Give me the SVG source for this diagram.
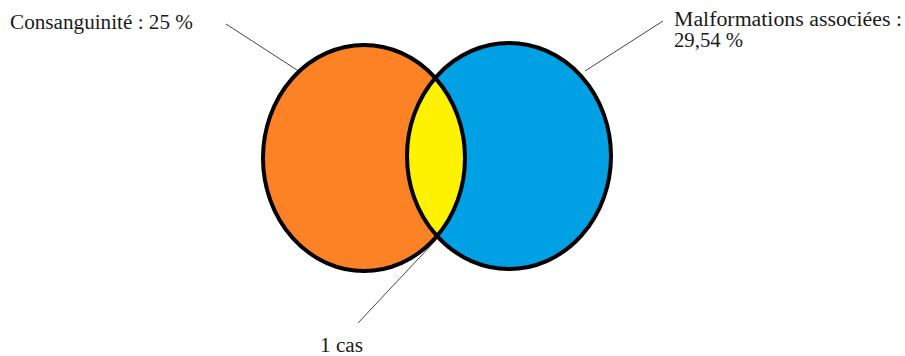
<svg xmlns="http://www.w3.org/2000/svg" width="905" height="356" viewBox="0 0 905 356">
<style>
.lbl{font-family:"Liberation Serif","Times New Roman",serif;font-size:20.5px;fill:#1a1a1a}
.edge{fill:none;stroke:#000;stroke-width:4}
.lead{stroke:#444;stroke-width:1;fill:none}
</style>
<defs>
<clipPath id="clipBlue"><ellipse cx="509" cy="156" rx="102" ry="113"/></clipPath>
</defs>
<rect width="905" height="356" fill="#fff"/>
<g id="connectors">
<line class="lead" x1="226" y1="24" x2="297" y2="70"/>
<line class="lead" x1="663" y1="21" x2="585" y2="71"/>
<line class="lead" x1="358" y1="323" x2="436" y2="240"/>
</g>
<g id="consanguinite">
<ellipse cx="364" cy="158" rx="101" ry="113" fill="#FD8125"/>
<text class="lbl" x="10" y="29" textLength="183" lengthAdjust="spacingAndGlyphs">Consanguinité : 25 %</text>
</g>
<g id="malformations">
<ellipse cx="509" cy="156" rx="102" ry="113" fill="#00A0E4"/>
<text class="lbl" x="674" y="26" textLength="228" lengthAdjust="spacingAndGlyphs">Malformations associées :</text>
<text class="lbl" x="674" y="47" textLength="69" lengthAdjust="spacingAndGlyphs">29,54 %</text>
</g>
<g id="intersection">
<ellipse cx="364" cy="158" rx="101" ry="113" fill="#FFF200" clip-path="url(#clipBlue)"/>
<text class="lbl" x="320" y="352" textLength="43" lengthAdjust="spacingAndGlyphs">1 cas</text>
</g>
<g id="outlines">
<ellipse class="edge" cx="364" cy="158" rx="101" ry="113"/>
<ellipse class="edge" cx="509" cy="156" rx="102" ry="113"/>
</g>
</svg>
